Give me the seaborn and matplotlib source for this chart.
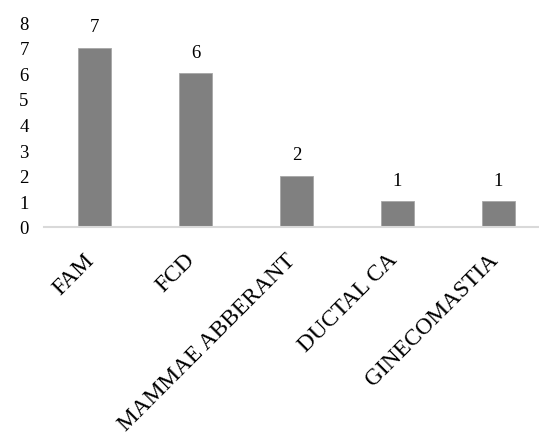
import matplotlib
matplotlib.use("Agg")
import matplotlib.pyplot as plt
import matplotlib.transforms as mtransforms
import seaborn as sns
import pandas as pd

categories = ["FAM", "FCD", "MAMMAE ABBERANT", "DUCTAL CA", "GINECOMASTIA"]
values = [7, 6, 2, 1, 1]
yticks = [0, 1, 2, 3, 4, 5, 6, 7, 8]

sns.set_theme(style="white")
plt.rcParams['font.family'] = ['Liberation Serif', 'DejaVu Serif']

df = pd.DataFrame({"cat": categories, "val": values})

fig = plt.figure(figsize=(5.39, 4.35), dpi=100)
ax = fig.add_axes([44/539, 1 - 228/435, (539 - 44)/539, (228 - 23)/435])

sns.barplot(data=df, x="cat", y="val", color="#808080", saturation=1,
            width=0.32, edgecolor="#a6a6a6", linewidth=0.6, ax=ax)

ax.set_xlim(-0.5, -0.5 + 495/101)
ax.set_ylim(0, 8)
ax.set_yticks(yticks)
ax.set_yticklabels([str(t) for t in yticks], fontsize=13.5, color="black")
ax.tick_params(axis="y", length=0, pad=11)
ax.tick_params(axis="x", length=0, pad=10)
ax.set_xticks(range(len(categories)))
ax.set_xticklabels(categories, rotation=45, ha="right", rotation_mode="anchor",
                   fontsize=16.8, color="black")
offset = mtransforms.ScaledTranslation(-11/100, -8/100, fig.dpi_scale_trans)
for lab in ax.get_xticklabels():
    lab.set_transform(lab.get_transform() + offset)
ax.set_xlabel("")
ax.set_ylabel("")

for s in ["top", "right", "left"]:
    ax.spines[s].set_visible(False)
ax.spines["bottom"].set_color("#d9d9d9")
ax.spines["bottom"].set_linewidth(1.5)

for c in ax.containers:
    ax.bar_label(c, labels=[str(v) for v in values], padding=9, fontsize=13.5, color="black")

fig.savefig("out.png", dpi=100)
